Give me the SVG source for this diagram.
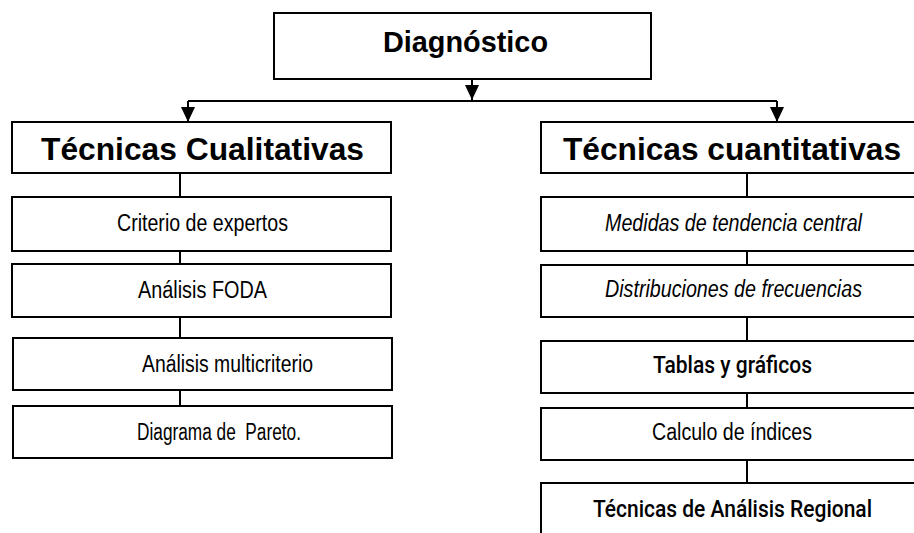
<svg xmlns="http://www.w3.org/2000/svg" width="914" height="533" viewBox="0 0 914 533">
<style>
.box{fill:#fff;stroke:#000;stroke-width:2}
.con{fill:none;stroke:#000;stroke-width:2}
.h1{font-family:"Liberation Sans",Arial,sans-serif;font-weight:bold;font-size:29px;fill:#000;text-anchor:middle}
.h2{font-family:"Liberation Sans",Arial,sans-serif;font-weight:bold;font-size:32px;fill:#000;text-anchor:middle}
.t{font-family:"Liberation Sans Narrow","Liberation Sans",Arial,sans-serif;font-size:23px;fill:#000;text-anchor:middle}
.i{font-style:italic}
.m{font-family:Roboto,"Liberation Sans",sans-serif;font-weight:500}
</style>
<defs>
<marker id="arr" markerUnits="userSpaceOnUse" markerWidth="15" markerHeight="14" viewBox="0 0 15 14" refX="15" refY="7" orient="auto">
<path d="M0,0 L15,7 L0,14 Z" fill="#000"/>
</marker>
</defs>
<g id="connectors">
<path class="con" d="M472,79 V100" marker-end="url(#arr)"/>
<path class="con" d="M188,101 H777"/>
<path class="con" d="M188,101 V122" marker-end="url(#arr)"/>
<path class="con" d="M777,101 V122" marker-end="url(#arr)"/>
<path class="con" d="M180,173 V197 M180,251 V264 M180,317 V338 M180,390 V406"/>
<path class="con" d="M747,173 V197 M747,251 V265 M747,317 V341 M747,393 V408 M747,460 V483"/>
</g>
<g id="n-diagnostico"><rect class="box" x="274" y="13" width="377" height="66"/><text class="h1" x="465.5" y="52" textLength="165" lengthAdjust="spacingAndGlyphs">Diagnóstico</text></g>
<g id="n-cualitativas"><rect class="box" x="12" y="122" width="379" height="51"/><text class="h2" x="202.5" y="160" textLength="323" lengthAdjust="spacingAndGlyphs">Técnicas Cualitativas</text></g>
<g id="n-cuantitativas"><rect class="box" x="541" y="122" width="380" height="51"/><text class="h2" x="732" y="160" textLength="338" lengthAdjust="spacingAndGlyphs">Técnicas cuantitativas</text></g>
<g id="n-criterio"><rect class="box" x="12" y="197" width="379" height="54"/><text class="t" x="202.5" y="231" textLength="171" lengthAdjust="spacingAndGlyphs">Criterio de expertos</text></g>
<g id="n-foda"><rect class="box" x="12" y="264" width="379" height="53"/><text class="t" x="202.5" y="298" textLength="129" lengthAdjust="spacingAndGlyphs">Análisis FODA</text></g>
<g id="n-multicriterio"><rect class="box" x="13" y="338" width="379" height="52"/><text class="t" x="227.5" y="372" textLength="171" lengthAdjust="spacingAndGlyphs">Análisis multicriterio</text></g>
<g id="n-pareto"><rect class="box" x="13" y="406" width="379" height="52"/><text class="t" x="219" y="440" textLength="164" lengthAdjust="spacingAndGlyphs" xml:space="preserve">Diagrama de  Pareto.</text></g>
<g id="n-medidas"><rect class="box" x="541" y="197" width="380" height="54"/><text class="t i" x="733.5" y="231" textLength="257" lengthAdjust="spacingAndGlyphs">Medidas de tendencia central</text></g>
<g id="n-distribuciones"><rect class="box" x="541" y="265" width="380" height="52"/><text class="t i" x="733.5" y="297" textLength="257" lengthAdjust="spacingAndGlyphs">Distribuciones de frecuencias</text></g>
<g id="n-tablas"><rect class="box" x="541" y="341" width="380" height="52"/><text class="t m" x="732.5" y="373" textLength="159" lengthAdjust="spacingAndGlyphs">Tablas y gráficos</text></g>
<g id="n-calculo"><rect class="box" x="541" y="408" width="380" height="52"/><text class="t" x="732" y="440" textLength="160" lengthAdjust="spacingAndGlyphs">Calculo de índices</text></g>
<g id="n-regional"><rect class="box" x="541" y="483" width="380" height="60"/><text class="t m" x="732.5" y="517" textLength="279" lengthAdjust="spacingAndGlyphs">Técnicas de Análisis Regional</text></g>
</svg>
